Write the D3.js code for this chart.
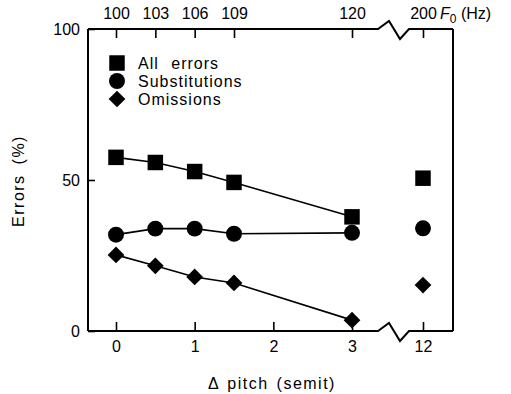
<!DOCTYPE html>
<html>
<head>
<meta charset="utf-8">
<script src="https://cdn.jsdelivr.net/npm/d3@7"></script>
<style>
  body { margin: 0; background: #fff; }
  svg { display: block; }
  text { font-family: "Liberation Sans", Arial, sans-serif; fill: #000; }
</style>
</head>
<body>
<div id="chart"></div>
<script>
// data
var semit = [0, 0.5, 1, 1.5, 3, 12]
var hzLabels = ["100", "103", "106", "109", "120", "200"]
var bottomTicks = [0, 1, 2, 3, 12]
var yTicks = [0, 50, 100]
var allErrors = [57.5, 55.8, 52.8, 49.2, 37.8, 50.6]
var substitutions = [31.9, 33.9, 33.9, 32.2, 32.5, 34]
var omissions = [25.2, 21.6, 17.9, 15.9, 3.6, 15.2]
var seriesNames = ["All errors", "Substitutions", "Omissions"]
var nJoined = 5 // first five points are joined by lines, 12 semit stands alone

// a square standing on its corner, as in the figure
var symbolRhomb = {
  draw: function(ctx, size) {
    var r = Math.sqrt(size / 2)
    ctx.moveTo(0, -r)
    ctx.lineTo(r, 0)
    ctx.lineTo(0, r)
    ctx.lineTo(-r, 0)
    ctx.closePath()
  }
}

function draw() {
  var W = 511, H = 394
  var mLeft = 88, mRight = 453, mTop = 29, mBottom = 331
  var breakX = 378, breakW = 31

  var svg = d3.select("#chart").append("svg").attr("width", W).attr("height", H)

  // piecewise scale: 0..3 semitones, then a jump to 12
  var x = d3.scaleLinear().domain([0, 3, 12]).range([116, 352, 423])
  var y = d3.scaleLinear().domain([0, 100]).range([mBottom, mTop])

  // frame with the axis breaks (zigzag goes up, then down)
  function zig(y0) {
    return [[mLeft, y0], [breakX, y0], [breakX + 11, y0 - 8], [breakX + 22, y0 + 10],
            [breakX + breakW, y0], [mRight, y0]]
  }
  var line = d3.line()
  ;[mBottom, mTop].forEach(function(y0) {
    svg.append("path").attr("d", line(zig(y0)))
      .attr("fill", "none").attr("stroke", "#000").attr("stroke-width", 2)
  })
  ;[mLeft, mRight].forEach(function(x0) {
    svg.append("line").attr("x1", x0).attr("x2", x0).attr("y1", mTop).attr("y2", mBottom)
      .attr("stroke", "#000").attr("stroke-width", 2)
  })

  function styleAxis(g) {
    g.select(".domain").remove()
    g.selectAll(".tick line").attr("stroke", "#000").attr("stroke-width", 1.6)
    g.selectAll(".tick text").style("font-family", "Liberation Sans, Arial, sans-serif")
      .style("font-size", "16px").attr("fill", "#000")
  }

  var xBottom = d3.axisBottom(x).tickValues(bottomTicks).tickSize(-9).tickPadding(10)
    .tickFormat(d3.format("d"))
  svg.append("g").attr("transform", "translate(0," + mBottom + ")").call(xBottom).call(styleAxis)

  var xTop = d3.axisTop(x).tickValues(semit).tickSize(-9).tickPadding(10)
    .tickFormat(function(d, i) { return hzLabels[i] })
  svg.append("g").attr("transform", "translate(0," + mTop + ")").call(xTop).call(styleAxis)

  var yLeft = d3.axisLeft(y).tickValues(yTicks).tickSize(-7).tickPadding(8)
  svg.append("g").attr("transform", "translate(" + mLeft + ",0)").call(yLeft).call(styleAxis)

  // F0 (Hz) label
  var f0 = svg.append("text").attr("x", 440).attr("y", 19).style("font-size", "16px")
  f0.append("tspan").text("F").style("font-style", "italic")
  f0.append("tspan").text("0").attr("dy", 4).style("font-size", "12px")
  f0.append("tspan").text(" (Hz)").attr("dy", -4)

  // axis titles
  svg.append("text").attr("x", 272).attr("y", 389).attr("text-anchor", "middle")
    .style("font-size", "16px").style("letter-spacing", "1.5px").style("word-spacing", "2px")
    .text("\u0394 pitch (semit)")
  svg.append("text").attr("transform", "translate(24,181) rotate(-90)").attr("text-anchor", "middle")
    .style("font-size", "16px").style("letter-spacing", "1.5px").style("word-spacing", "4px")
    .text("Errors (%)")

  // markers
  var symSquare = d3.symbol().type(d3.symbolSquare).size(240)
  var symCircle = d3.symbol().type(d3.symbolCircle).size(200)
  var symDiamond = d3.symbol().type(symbolRhomb).size(140)
  var series = [
    {name: seriesNames[0], values: allErrors, sym: symSquare},
    {name: seriesNames[1], values: substitutions, sym: symCircle},
    {name: seriesNames[2], values: omissions, sym: symDiamond}
  ]

  var lineGen = d3.line().x(function(d) { return x(d[0]) }).y(function(d) { return y(d[1]) })

  series.forEach(function(s) {
    var pts = d3.zip(semit, s.values)
    svg.append("path").attr("d", lineGen(pts.slice(0, nJoined)))
      .attr("fill", "none").attr("stroke", "#000").attr("stroke-width", 1.6)
    svg.append("g").selectAll("path").data(pts).join("path")
      .attr("d", s.sym())
      .attr("transform", function(d) { return "translate(" + x(d[0]) + "," + y(d[1]) + ")" })
      .attr("fill", "#000")
  })

  // legend
  var legend = svg.append("g").selectAll("g").data(series).join("g")
    .attr("transform", function(d, i) { return "translate(117," + (63 + i * 18) + ")" })
  legend.append("path").attr("d", function(d) { return d.sym() }).attr("fill", "#000")
  legend.append("text").attr("x", 21).attr("y", 6).style("font-size", "16px")
    .style("letter-spacing", "1px").style("word-spacing", "7px")
    .text(function(d) { return d.name })
}

draw()
</script>
</body>
</html>
